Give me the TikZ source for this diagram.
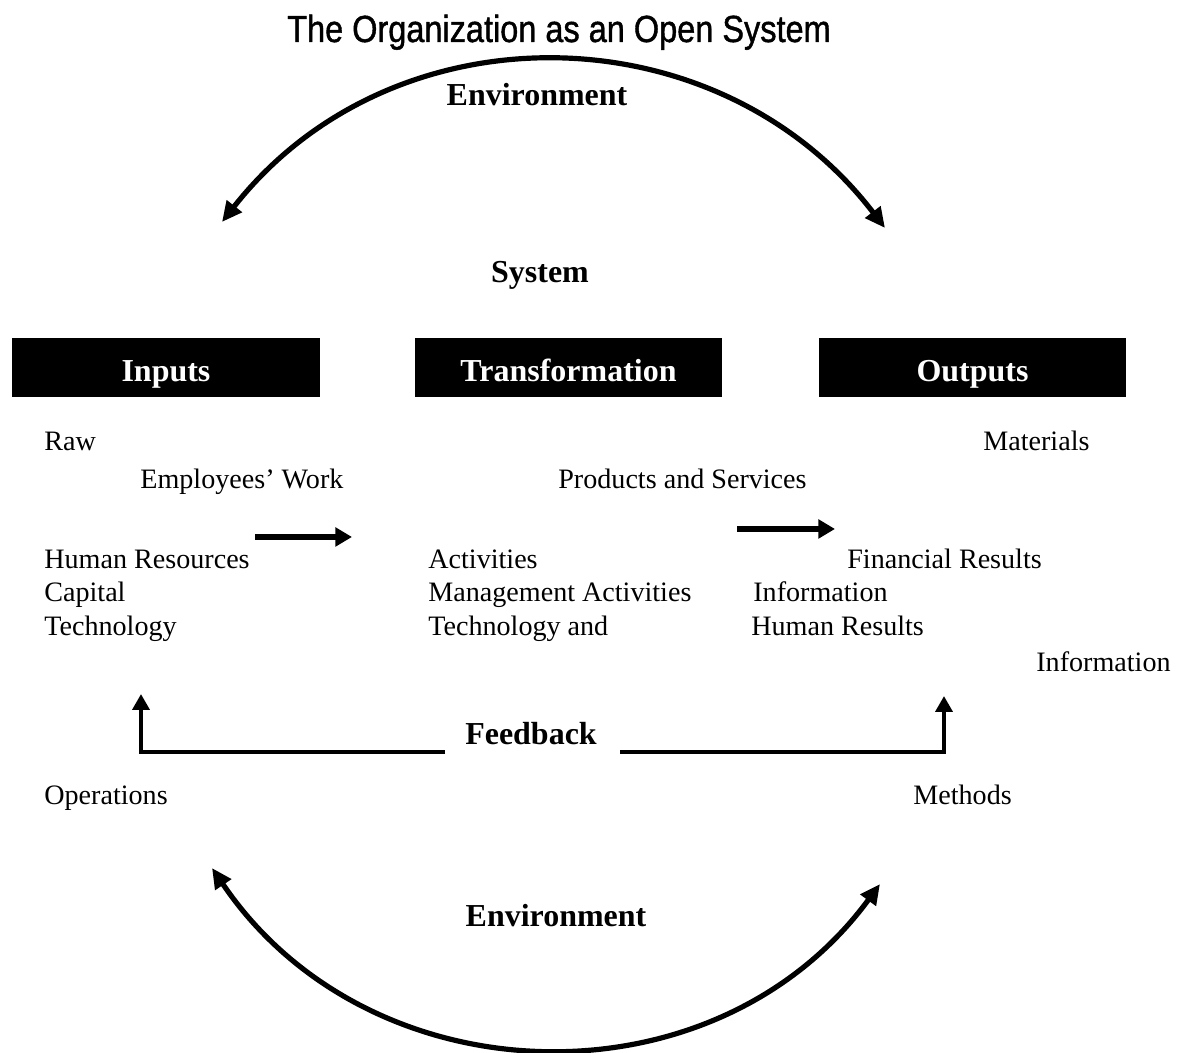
\documentclass[tikz,border=0pt]{standalone}
\usepackage{fontspec}
\setmainfont{Liberation Serif}
\newfontfamily\titlefont[FakeBold=1.2]{Liberation Sans}
\usetikzlibrary{arrows.meta}
\begin{document}
\begin{tikzpicture}[x=0.02cm,y=-0.02cm,
  body/.style={font=\fontsize{16pt}{19pt}\selectfont, anchor=base west, inner sep=0pt},
  boldlbl/.style={font=\fontsize{18.2pt}{22pt}\selectfont\bfseries, anchor=base, inner sep=0pt},
  hdr/.style={fill=black, text=white, minimum width=6.16cm, minimum height=1.18cm, inner sep=0pt,
    font=\fontsize{18.2pt}{22pt}\selectfont\bfseries, text height=15.4pt, text depth=0pt},
  envarc/.style={line width=2.95pt, {Triangle[length=11.5pt,width=10.5pt]}-{Triangle[length=11.5pt,width=10.5pt]}},
  fbline/.style={line width=2.4pt, -{Triangle[length=9pt,width=9.5pt]}},
  flow/.style={line width=3.4pt, -{Triangle[length=9.5pt,width=10.5pt]}}
]
\fill[white] (0,0) rectangle (1184,1053);
\useasboundingbox (0,0) rectangle (1184,1053);

% title
\node[font=\titlefont\fontsize{21.5pt}{25pt}\selectfont, anchor=base, inner sep=0pt] (title) at (559,42) {\scalebox{0.86}[1]{The Organization as an Open System}};

% environment arcs
\coordinate (eTL) at (222,222);
\coordinate (eTR) at (885,228);
\draw[envarc] (eTL) .. controls (393,4) and (718,10) .. (eTR);
\node[boldlbl] (envtop) at (537,106) {Environment};

\coordinate (eBL) at (212,868);
\coordinate (eBR) at (880,884);
\draw[envarc] (eBL) .. controls (369,1100) and (714,1110) .. (eBR);
\node[boldlbl] (envbot) at (556,927) {Environment};

% system
\node[boldlbl] (system) at (540,283) {System};

% header boxes
\node[hdr] (inputs) at (166,367.5) {Inputs};
\node[hdr] (transf) at (568.5,367.5) {Transformation};
\node[hdr] (outputs) at (972.5,367.5) {Outputs};

% body texts
\node[body] (raw) at (44,451) {Raw};
\node[body] (materials) at (983,451) {Materials};
\node[body] (empwork) at (140,489) {Employees’ Work};
\node[body] (prodserv) at (558,489) {Products and Services};
\node[body] (humres) at (44,569) {Human Resources};
\node[body] (activ) at (428,569) {Activities};
\node[body] (finres) at (847,569) {Financial Results};
\node[body] (capital) at (44,602) {Capital};
\node[body] (mgmt) at (428,602) {Management Activities};
\node[body] (info1) at (753,602) {Information};
\node[body] (tech) at (44,636) {Technology};
\node[body] (techand) at (428,636) {Technology and};
\node[body] (humresults) at (751,636) {Human Results};
\node[body] (info2) at (1036,672) {Information};
\node[body] (operations) at (44,805) {Operations};
\node[body] (methods) at (913,805) {Methods};

% flow arrows
\coordinate (f1s) at (255,537);
\coordinate (f1e) at (352,537);
\draw[flow] (f1s) -- (f1e);
\coordinate (f2s) at (737,529);
\coordinate (f2e) at (835,529);
\draw[flow] (f2s) -- (f2e);

% feedback
\node[boldlbl] (feedback) at (531,745) {Feedback};
\coordinate (fbL) at (445,752);
\coordinate (fbLtip) at (141,694);
\coordinate (fbR) at (620,752);
\coordinate (fbRtip) at (944,696);
\draw[fbline] (fbL) -| (fbLtip);
\draw[fbline] (fbR) -| (fbRtip);
\end{tikzpicture}
\end{document}
